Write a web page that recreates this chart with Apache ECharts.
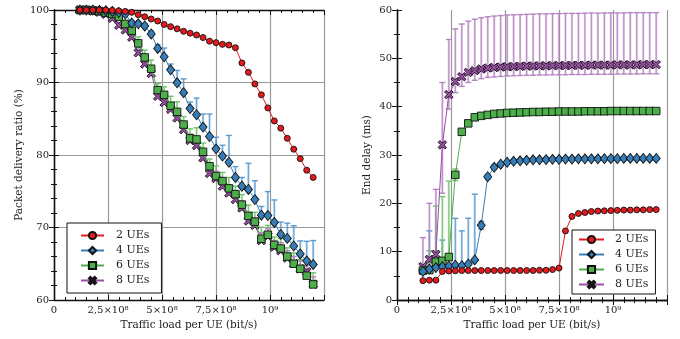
<!DOCTYPE html>
<html>
<head>
<meta charset="utf-8">
<script src="https://cdn.jsdelivr.net/npm/echarts@6/dist/echarts.min.js"></script>
<style>
  html, body { margin: 0; padding: 0; background: #fff; }
  #chart { width: 680px; height: 339px; }
</style>
</head>
<body>
<div id="chart"></div>
<script>
// offered load per UE, Mbit/s (converted to bit/s for the axis)
const LOAD_MBPS = [120, 150, 180, 210, 240, 270, 300, 330, 360, 390, 420, 450, 480, 510, 540, 570, 600, 630, 660,
  690, 720, 750, 780, 810, 840, 870, 900, 930, 960, 990, 1020, 1050, 1080, 1110, 1140, 1170, 1200];
const UE_NAMES = ['2 UEs', '4 UEs', '6 UEs', '8 UEs'];
const X_TICKS = [0, 2.5e8, 5e8, 7.5e8, 1e9];
const X_TICK_LABELS = ['0', '2,5×10⁸', '5×10⁸', '7,5×10⁸', '10⁹'];

// packet delivery ratio (%)
const PDR_2 = [100, 100, 100, 100, 100, 99.95, 99.88, 99.8, 99.68, 99.35, 99.07, 98.76, 98.48, 98.0, 97.7, 97.4,
  97.06, 96.8, 96.55, 96.2, 95.7, 95.5, 95.26, 95.17, 94.8, 92.7, 91.4, 89.8, 88.3, 86.5, 84.7, 83.7, 82.3, 80.8,
  79.5, 77.9, 76.9];
const PDR_4 = [100, 100, 100, 99.95, 99.9, 99.8, 99.65, 99.45, 98.2, 98.1, 97.8, 96.7, 94.7, 93.55, 91.75, 89.96,
  88.6, 86.4, 85.55, 83.85, 82.55, 80.85, 79.85, 79.0, 76.9, 75.7, 75.25, 73.85, 71.7, 71.65, 70.7, 69.05, 68.5,
  67.45, 66.35, 65.4, 64.9];
const PDR_6 = [100, 100, 99.95, 99.85, 99.63, 99.45, 99.08, 98.07, 97.15, 95.4, 93.46, 91.9, 88.95, 88.3, 86.8,
  85.95, 84.2, 82.3, 82.15, 80.45, 78.45, 77.1, 76.4, 75.4, 74.6, 73.15, 71.6, 70.8, 68.45, 69.0, 67.6, 67.1, 66.0,
  65.0, 64.3, 63.35, 62.15];
const PDR_8 = [100, 100, 99.85, 99.7, 99.4, 98.85, 97.9, 97.25, 96.25, 94.1, 92.55, 91.25, 88.1, 87.25, 86.3, 85.1,
  83.5, 82.0, 81.3, 79.6, 77.45, 76.75, 75.7, 74.75, 73.85, 72.7, 70.9, 70.3, 68.2, 68.8, 67.3, 66.8, 65.8, 65.0,
  64.3, 63.9, 62.2];
// upper error (PDR points)
const PDR_ERR_4 = [0, 0, 0, 0, 0, 0, 0.1, 0.2, 0.3, 0.3, 0.3, 0.4, 0.5, 1.2, 0.8, 1.7, 1.9, 0.9, 2.3, 1.8, 3.1, 1.6,
  1.5, 3.7, 1.5, 1.2, 3.6, 2.6, 1.2, 3.3, 3.1, 1.7, 2.1, 2.8, 1.8, 2.7, 3.3];
const PDR_ERR_6 = [0, 0, 0, 0, 0.1, 0.2, 0.3, 0.5, 0.7, 0.9, 1.0, 1.2, 0.9, 1.1, 1.3, 1.4, 1.1, 1.3, 1.6, 1.2, 1.0,
  1.4, 1.2, 1.5, 1.1, 1.4, 1.5, 1.3, 1.6, 1.3, 1.1, 1.4, 1.2, 1.5, 1.3, 1.4, 1.6];
const PDR_ERR_8 = [0, 0, 0, 0.1, 0.2, 0.3, 0.4, 0.5, 0.6, 0.7, 0.8, 0.8, 0.9, 1.0, 0.9, 1.0, 1.1, 0.9, 1.0, 1.1, 0.9,
  1.0, 1.1, 1.0, 0.9, 1.0, 1.2, 1.0, 1.1, 1.0, 0.9, 1.1, 1.0, 1.0, 1.1, 0.9, 1.0];

// end-to-end delay (ms)
const DELAY_2 = [4.0, 4.1, 4.1, 5.9, 6.0, 6.05, 6.1, 6.1, 6.1, 6.1, 6.1, 6.1, 6.1, 6.1, 6.1, 6.1, 6.1, 6.1, 6.15,
  6.15, 6.3, 6.6, 14.3, 17.3, 17.9, 18.1, 18.3, 18.4, 18.45, 18.5, 18.55, 18.6, 18.6, 18.65, 18.65, 18.7, 18.7];
const DELAY_4 = [5.9, 6.4, 6.7, 6.9, 7.0, 7.2, 7.1, 7.45, 8.3, 15.45, 25.5, 27.45, 28.1, 28.5, 28.7, 28.8, 28.9,
  29.0, 29.0, 29.05, 29.1, 29.1, 29.15, 29.15, 29.2, 29.2, 29.2, 29.2, 29.25, 29.25, 29.25, 29.3, 29.3, 29.3, 29.3,
  29.3, 29.3];
const DELAY_6 = [6.1, 6.2, 7.9, 8.1, 8.9, 25.9, 34.8, 36.55, 37.8, 38.1, 38.3, 38.5, 38.6, 38.7, 38.75, 38.8, 38.85,
  38.9, 38.9, 38.95, 38.95, 39.0, 39.0, 39.0, 39.0, 39.05, 39.05, 39.05, 39.05, 39.1, 39.1, 39.1, 39.1, 39.1, 39.1,
  39.1, 39.1];
const DELAY_8 = [6.9, 8.4, 9.45, 32.1, 42.5, 45.2, 46.2, 47.1, 47.45, 47.8, 48.0, 48.1, 48.2, 48.25, 48.3, 48.35,
  48.4, 48.4, 48.45, 48.45, 48.5, 48.5, 48.5, 48.55, 48.55, 48.55, 48.6, 48.6, 48.6, 48.6, 48.65, 48.65, 48.65,
  48.65, 48.7, 48.7, 48.7];
// delay error, up / down (ms)
const DELAY_UP_4 = [0.5, 7.9, 2.3, 5.5, 2.0, 9.7, 7.2, 9.45, 13.6, 0.8, 0.5, 0.4, 0.3, 0.3, 0.3, 0.3, 0.3, 0.3, 0.3,
  0.3, 0.3, 0.3, 0.3, 0.3, 0.3, 0.3, 0.3, 0.3, 0.3, 0.3, 0.3, 0.3, 0.3, 0.3, 0.3, 0.3, 0.3];
const DELAY_DOWN_4 = [0, 0, 0, 0, 0, 0, 0, 0, 0, 0.8, 0.5, 0.4, 0.3, 0.3, 0.3, 0.3, 0.3, 0.3, 0.3, 0.3, 0.3, 0.3,
  0.3, 0.3, 0.3, 0.3, 0.3, 0.3, 0.3, 0.3, 0.3, 0.3, 0.3, 0.3, 0.3, 0.3, 0.3];
const DELAY_UP_6 = [0.5, 4.0, 11.55, 13.3, 15.7, 1.2, 0.5, 0.4, 0.3, 0.3, 0.3, 0.3, 0.3, 0.3, 0.3, 0.3, 0.3, 0.3,
  0.3, 0.3, 0.3, 0.3, 0.3, 0.3, 0.3, 0.3, 0.3, 0.3, 0.3, 0.3, 0.3, 0.3, 0.3, 0.3, 0.3, 0.3, 0.3];
const DELAY_DOWN_6 = [0, 0, 0, 0, 0, 1.2, 0.5, 0.4, 0.3, 0.3, 0.3, 0.3, 0.3, 0.3, 0.3, 0.3, 0.3, 0.3, 0.3, 0.3, 0.3,
  0.3, 0.3, 0.3, 0.3, 0.3, 0.3, 0.3, 0.3, 0.3, 0.3, 0.3, 0.3, 0.3, 0.3, 0.3, 0.3];
const DELAY_UP_8 = [6.0, 11.6, 13.45, 12.9, 11.4, 10.9, 10.9, 10.6, 10.65, 10.6, 10.6, 10.65, 10.65, 10.7, 10.7,
  10.7, 10.7, 10.75, 10.75, 10.75, 10.75, 10.75, 10.8, 10.75, 10.75, 10.8, 10.8, 10.75, 10.8, 10.8, 10.75, 10.75,
  10.8, 10.8, 10.75, 10.75, 10.75];
const DELAY_DOWN_8 = [0, 0, 0, 10, 3.0, 2.3, 2.0, 2.1, 2.0, 2.0, 1.95, 1.95, 1.95, 1.9, 1.9, 1.9, 1.9, 1.9, 1.9, 1.9,
  1.9, 1.9, 1.9, 1.9, 1.9, 1.9, 1.9, 1.9, 1.9, 1.9, 1.9, 1.9, 1.9, 1.9, 1.9, 1.9, 1.9];

const COLORS = ['#e41a1c', '#377eb8', '#4daf4a', '#984ea3'];
const ERR_COLORS = ['#e41a1c', '#5b9bd0', '#6fc46c', '#b583c2'];
const SYMBOLS = ['circle', 'diamond', 'rect',
  'path://M0,2 L2,0 L5,3 L8,0 L10,2 L7,5 L10,8 L8,10 L5,7 L2,10 L0,8 L3,5 Z'];
const SYMBOL_SIZES = [6, [8, 10], 7.5, 8.5];
const FONT = 'DejaVu Serif';

const chart = echarts.init(document.getElementById('chart'), null, { renderer: 'canvas' });

const toPairs = vals => LOAD_MBPS.map((m, i) => [m * 1e6, vals[i]]);

function lineSeries(idx, vals, axis) {
  return {
    name: UE_NAMES[idx],
    type: 'line',
    xAxisIndex: axis, yAxisIndex: axis,
    data: toPairs(vals),
    symbol: SYMBOLS[idx],
    symbolSize: SYMBOL_SIZES[idx],
    showAllSymbol: true,
    z: 10 - idx,
    lineStyle: { color: COLORS[idx], width: 1 },
    itemStyle: { color: COLORS[idx], borderColor: '#111', borderWidth: 0.9 },
    emphasis: { disabled: true },
    animation: false
  };
}

function errorSeries(idx, vals, up, down, axis) {
  const data = [];
  vals.forEach((v, i) => {
    const u = up[i] || 0, d = down ? (down[i] || 0) : 0;
    if (u > 0 || d > 0) data.push([LOAD_MBPS[i] * 1e6, v - d, v + u, v]);
  });
  const color = ERR_COLORS[idx];
  return {
    name: UE_NAMES[idx] + ' err',
    type: 'custom',
    xAxisIndex: axis, yAxisIndex: axis,
    data,
    encode: { x: 0, y: [1, 2] },
    clip: true,
    silent: true,
    z: 2,
    animation: false,
    renderItem: (params, api) => {
      const x = api.value(0);
      const lo = api.coord([x, api.value(1)]);
      const hi = api.coord([x, api.value(2)]);
      const children = [
        { type: 'line', shape: { x1: hi[0], y1: hi[1], x2: lo[0], y2: lo[1] },
          style: { stroke: color, lineWidth: 2.2, opacity: 0.45 } },
        { type: 'line', shape: { x1: hi[0], y1: hi[1], x2: lo[0], y2: lo[1] },
          style: { stroke: color, lineWidth: 0.9 } }
      ];
      if (api.value(2) > api.value(3)) {
        children.push({ type: 'line', shape: { x1: hi[0] - 3, y1: hi[1], x2: hi[0] + 3, y2: hi[1] },
          style: { stroke: color, lineWidth: 1.4 } });
      }
      if (api.value(1) < api.value(3)) {
        children.push({ type: 'line', shape: { x1: lo[0] - 3, y1: lo[1], x2: lo[0] + 3, y2: lo[1] },
          style: { stroke: color, lineWidth: 1.4 } });
      }
      return { type: 'group', children };
    }
  };
}

const tickFormatter = v => {
  const i = X_TICKS.indexOf(v);
  return i >= 0 ? X_TICK_LABELS[i] : '';
};

function xAxes(grid, showSplit) {
  const common = {
    type: 'value', gridIndex: grid, min: 0, max: 1.25e9, interval: 2.5e8,
    axisLine: { show: true, lineStyle: { color: '#111', width: 1.3 } },
    axisTick: { show: true, inside: true, length: 5, lineStyle: { color: '#111' } },
    minorTick: { show: true, splitNumber: 5, length: 3, lineStyle: { color: '#111' } }
  };
  return [
    Object.assign({}, common, {
      position: 'bottom',
      name: 'Traffic load per UE (bit/s)', nameLocation: 'middle', nameGap: 17,
      nameTextStyle: { fontFamily: FONT, fontSize: 10.5, color: '#222' },
      axisLabel: { formatter: tickFormatter, fontFamily: FONT, fontSize: 10, color: '#222', margin: 5,
        showMaxLabel: false },
      splitLine: { show: showSplit, lineStyle: { color: '#999', width: 1.2 } }
    }),
    Object.assign({}, common, {
      position: 'top', axisLabel: { show: false }, splitLine: { show: false }
    })
  ];
}

function yAxes(grid, min, max, minorSplit, name, gap, showSplit) {
  const common = {
    type: 'value', gridIndex: grid, min, max, interval: 10,
    axisLine: { show: true, lineStyle: { color: '#111', width: 1.3 } },
    axisTick: { show: true, inside: true, length: 5, lineStyle: { color: '#111' } },
    minorTick: { show: true, splitNumber: minorSplit, length: 3, lineStyle: { color: '#111' } }
  };
  return [
    Object.assign({}, common, {
      position: 'left',
      name, nameLocation: 'middle', nameGap: gap,
      nameTextStyle: { fontFamily: FONT, fontSize: 10.5, color: '#222' },
      axisLabel: { fontFamily: FONT, fontSize: 10, color: '#222', margin: 5 },
      splitLine: { show: showSplit, lineStyle: { color: '#999', width: 1.2 } }
    }),
    Object.assign({}, common, {
      position: 'right', axisLabel: { show: false }, splitLine: { show: false }
    })
  ];
}

// smaller itemHeight keeps the legend markers close to the plotted marker size
function legend(left, top, padding, itemWidth, textPad) {
  return {
    data: UE_NAMES, left, top, orient: 'vertical',
    backgroundColor: '#fff', borderColor: '#111', borderWidth: 1, borderRadius: 0,
    padding, itemGap: 4, itemWidth, itemHeight: 9,
    selectedMode: false,
    textStyle: { fontFamily: FONT, fontSize: 11, color: '#222', padding: [0, 0, 0, textPad] }
  };
}

const option = {
  animation: false,
  backgroundColor: '#fff',
  grid: [
    { left: 54, top: 10, width: 270, height: 290 },
    { left: 397, top: 10, width: 270, height: 290 }
  ],
  xAxis: [...xAxes(0, true), ...xAxes(1, true)],
  yAxis: [
    ...yAxes(0, 60, 100, 5, 'Packet delivery ratio (%)', 29, true),
    ...yAxes(1, 0, 60, 2, 'End delay (ms)', 24, false)
  ],
  legend: [
    legend(67, 223, [7, 12, 7, 13], 23, 7),
    legend(572, 230, [4, 7, 4, 6], 25, 6)
  ],
  series: [
    errorSeries(1, PDR_4, PDR_ERR_4, null, 0),
    errorSeries(2, PDR_6, PDR_ERR_6, null, 0),
    errorSeries(3, PDR_8, PDR_ERR_8, null, 0),
    lineSeries(0, PDR_2, 0),
    lineSeries(1, PDR_4, 0),
    lineSeries(2, PDR_6, 0),
    lineSeries(3, PDR_8, 0),
    errorSeries(1, DELAY_4, DELAY_UP_4, DELAY_DOWN_4, 2),
    errorSeries(2, DELAY_6, DELAY_UP_6, DELAY_DOWN_6, 2),
    errorSeries(3, DELAY_8, DELAY_UP_8, DELAY_DOWN_8, 2),
    lineSeries(0, DELAY_2, 2),
    lineSeries(1, DELAY_4, 2),
    lineSeries(2, DELAY_6, 2),
    lineSeries(3, DELAY_8, 2)
  ]
};

chart.setOption(option);
</script>
</body>
</html>
